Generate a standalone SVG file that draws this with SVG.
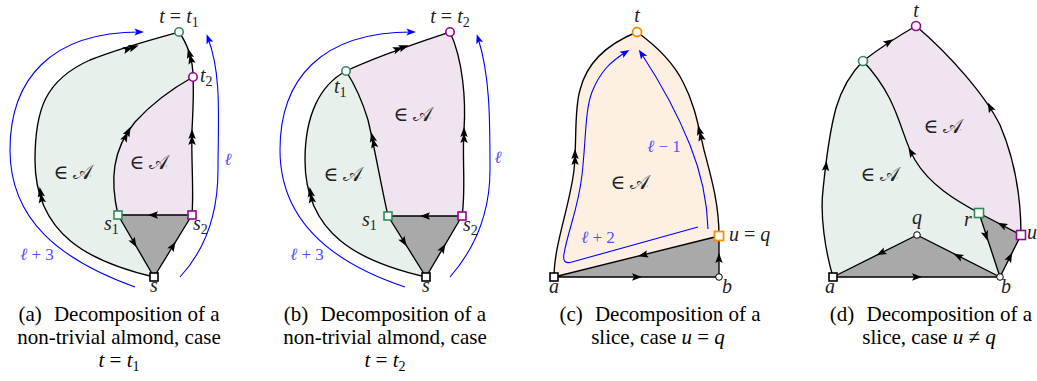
<svg xmlns="http://www.w3.org/2000/svg" xmlns:xlink="http://www.w3.org/1999/xlink" width="1037" height="381" viewBox="0 0 1037 381">
<style>
.edge{fill:none;stroke:#000;stroke-width:1.35}
.blue{fill:none;stroke:#0000ff;stroke-width:1.1;marker-end:url(#bh)}
.gfill{fill:#e7f0eb;stroke:none}
.pfill{fill:#f1e4f1;stroke:none}
.ofill{fill:#fdf0e2;stroke:none}
.gray{fill:#a9a9a9;stroke:#000;stroke-width:1.35;stroke-linejoin:round}
.ah{fill:#000}
.math{font-family:"Liberation Serif","DejaVu Serif",serif;font-style:italic;font-size:20px;fill:#222}
.up{font-style:normal}
.sub{font-size:14px;font-style:normal}
.bl{font-family:"Liberation Serif","DejaVu Serif",serif;font-style:italic;font-size:17px;fill:#5050ff}
.inA{font-family:"Liberation Serif","DejaVu Serif",serif;font-size:20px;fill:#222}
.cap{font-family:"Liberation Serif",serif;font-size:21px;fill:#000;text-anchor:middle}
.nG{fill:#fff;stroke:#2e8b57;stroke-width:1.6}
.nP{fill:#fff;stroke:#990099;stroke-width:1.6}
.nO{fill:#fff;stroke:#ff8c00;stroke-width:1.8}
.nK{fill:#fff;stroke:#000;stroke-width:1.6}
.nS{fill:#fff;stroke:#000;stroke-width:1}
</style>
<defs>
<path id="ah" d="M5,0 L-5,-3.7 L-3,0 L-5,3.7 Z"/>
<path id="dah" d="M8,0 L-2,-3.7 L0,0 L-2,3.7 Z M2,0 L-8,-3.7 L-6,0 L-8,3.7 Z"/>
<marker id="bh" viewBox="-6 -4 11 8" markerWidth="11" markerHeight="8" refX="0" refY="0" orient="auto" markerUnits="userSpaceOnUse">
<path d="M4,0 L-5.5,-3.6 L-3.5,0 L-5.5,3.6 Z" fill="#0000ff"/>
</marker>
</defs>

<!-- Panel (a) -->
<g id="panel-a">
<path class="gfill" d="M154,277 C90,262 35,235 35,160 C35,110 45,80 90,60 C120,48 150,40 179,32 C188,45 193,60 193,77 C175,87 155,100 135,122 C112,150 110,180 118,215 Z"/>
<path class="pfill" d="M118,215 C110,180 112,150 135,122 C155,100 175,87 193,77 C194,95 193,110 192,130 C191,160 194,190 192,215 Z"/>
<path class="gray" d="M118,215 L192,215 L154,277 Z"/>
</g>
<g id="connectors-a">
<path class="edge" d="M154,277 C90,262 35,235 35,160 C35,110 45,80 90,60 C120,48 150,40 179,32"/>
<path class="edge" d="M193,77 C193,60 188,45 179,32"/>
<path class="edge" d="M118,215 C110,180 112,150 135,122 C155,100 175,87 193,77"/>
<path class="edge" d="M192,215 C194,190 191,160 192,130 C193,110 194,95 193,77"/>
<use href="#dah" class="ah" transform="translate(41,195) rotate(-100)"/>
<use href="#dah" class="ah" transform="translate(131,48) rotate(-18)"/>
<use href="#dah" class="ah" transform="translate(127,134) rotate(-63)"/>
<use href="#dah" class="ah" transform="translate(192,137) rotate(-90)"/>
<use href="#dah" class="ah" transform="translate(190,56) rotate(-105)"/>
<use href="#ah" class="ah" transform="translate(153,215) rotate(180)"/>
<use href="#ah" class="ah" transform="translate(134,243) rotate(60)"/>
<use href="#ah" class="ah" transform="translate(173,246) rotate(-58)"/>
<path class="blue" d="M135,287 C60,260 10,220 10,150 C10,80 50,32 140,32"/>
<path class="blue" d="M180,277 C205,250 218,215 218,170 C218,120 222,75 208,38"/>
</g>
<g id="nodes-a">
<circle id="a-t" class="nG" cx="179" cy="32" r="4.2"/>
<circle id="a-t2" class="nP" cx="193" cy="77" r="4.2"/>
<rect id="a-s1" class="nG" x="114" y="211" width="8" height="8"/>
<rect id="a-s2" class="nP" x="188" y="211" width="8" height="8"/>
<rect id="a-s" class="nK" x="150" y="273" width="8" height="8"/>
<text class="math" x="179" y="23" text-anchor="middle">t <tspan class="up">=</tspan> t<tspan class="sub" dy="4">1</tspan></text>
<text class="math" x="200" y="82">t<tspan class="sub" dy="4">2</tspan></text>
<text class="math" x="104" y="230">s<tspan class="sub" dy="4">1</tspan></text>
<text class="math" x="193" y="230">s<tspan class="sub" dy="4">2</tspan></text>
<text class="math" x="154" y="292" text-anchor="middle">s</text>
<text class="bl" x="37" y="260" text-anchor="middle">ℓ <tspan font-style="normal">+ 3</tspan></text>
<text class="bl" x="228" y="165" text-anchor="middle">ℓ</text>
<text class="inA" x="73" y="179" text-anchor="middle">∈ 𝒜</text>
<text class="inA" x="149" y="169" text-anchor="middle">∈ 𝒜</text>
</g>

<!-- Panel (b) -->
<g id="panel-b">
<path class="gfill" d="M426,277 C360,262 305,235 305,160 C305,115 320,85 346,71 C355,85 362,100 368,120 C375,150 380,180 388,216 Z"/>
<path class="pfill" d="M346,71 C380,55 420,42 450,32 C463,60 466,100 464,130 C462,160 466,190 462,216 L388,216 C380,180 375,150 368,120 C362,100 355,85 346,71 Z"/>
<path class="gray" d="M388,216 L462,216 L426,277 Z"/>
</g>
<g id="connectors-b">
<path class="edge" d="M426,277 C360,262 305,235 305,160 C305,115 320,85 346,71"/>
<path class="edge" d="M346,71 C380,55 420,42 450,32"/>
<path class="edge" d="M388,216 C380,180 375,150 368,120 C362,100 355,85 346,71"/>
<path class="edge" d="M462,216 C466,190 462,160 464,130 C466,100 463,60 450,32"/>
<use href="#dah" class="ah" transform="translate(311,195) rotate(-100)"/>
<use href="#dah" class="ah" transform="translate(401,48) rotate(-20)"/>
<use href="#dah" class="ah" transform="translate(373,140) rotate(-103)"/>
<use href="#dah" class="ah" transform="translate(464,135) rotate(-90)"/>
<use href="#ah" class="ah" transform="translate(425,216) rotate(180)"/>
<use href="#ah" class="ah" transform="translate(404,242) rotate(58)"/>
<use href="#ah" class="ah" transform="translate(443,248) rotate(-59)"/>
<path class="blue" d="M405,287 C330,262 280,220 280,150 C280,80 320,32 412,32"/>
<path class="blue" d="M450,277 C478,245 490,210 490,170 C490,120 490,75 478,38"/>
</g>
<g id="nodes-b">
<circle id="b-t" class="nP" cx="450" cy="32" r="4.2"/>
<circle id="b-t1" class="nG" cx="346" cy="71" r="4.2"/>
<rect id="b-s1" class="nG" x="384" y="212" width="8" height="8"/>
<rect id="b-s2" class="nP" x="458" y="212" width="8" height="8"/>
<rect id="b-s" class="nK" x="422" y="273" width="8" height="8"/>
<text class="math" x="450" y="23" text-anchor="middle">t <tspan class="up">=</tspan> t<tspan class="sub" dy="4">2</tspan></text>
<text class="math" x="334" y="93">t<tspan class="sub" dy="4">1</tspan></text>
<text class="math" x="362" y="226">s<tspan class="sub" dy="4">1</tspan></text>
<text class="math" x="463" y="231">s<tspan class="sub" dy="4">2</tspan></text>
<text class="math" x="426" y="292" text-anchor="middle">s</text>
<text class="bl" x="307" y="260" text-anchor="middle">ℓ <tspan font-style="normal">+ 3</tspan></text>
<text class="bl" x="498" y="163" text-anchor="middle">ℓ</text>
<text class="inA" x="343" y="181" text-anchor="middle">∈ 𝒜</text>
<text class="inA" x="413" y="121" text-anchor="middle">∈ 𝒜</text>
</g>

<!-- Panel (c) -->
<g id="panel-c">
<path class="ofill" d="M554,277 C554,245 570,205 574,170 C577,140 574,110 580,90 C586,65 605,45 637,32 C655,45 672,60 683,82 C695,105 698,125 704,150 C712,180 719,205 719,236 Z"/>
<path class="gray" d="M554,277 L719,236 L719,277 Z"/>
</g>
<g id="connectors-c">
<path class="edge" d="M554,277 C554,245 570,205 574,170 C577,140 574,110 580,90 C586,65 605,45 637,32"/>
<path class="edge" d="M719,236 C719,205 712,180 704,150 C698,125 695,105 683,82 C672,60 655,45 637,32"/>
<use href="#dah" class="ah" transform="translate(575,157) rotate(-90)"/>
<use href="#dah" class="ah" transform="translate(700,133) rotate(-105)"/>
<use href="#ah" class="ah" transform="translate(643,255) rotate(166)"/>
<use href="#ah" class="ah" transform="translate(637,277) rotate(0)"/>
<use href="#ah" class="ah" transform="translate(719,258) rotate(-90)"/>
<path class="blue" d="M698,227 L572,262 Q562,265 564,254 C568,230 578,210 582,175 C586,140 585,110 592,92 C600,72 610,62 626,52"/>
<path class="blue" d="M708,229 C707,195 700,170 690,145 C678,115 662,85 641,53"/>
</g>
<g id="nodes-c">
<circle id="c-t" class="nO" cx="637" cy="32" r="4.5"/>
<rect id="c-u" class="nO" x="714.5" y="231.5" width="9" height="9"/>
<rect id="c-a" class="nK" x="550" y="273" width="8" height="8"/>
<circle id="c-b" class="nS" cx="719" cy="277" r="3.3"/>
<text class="math" x="637" y="22" text-anchor="middle">t</text>
<text class="math" x="729" y="241">u <tspan class="up">=</tspan> q</text>
<text class="math" x="554" y="293" text-anchor="middle">a</text>
<text class="math" x="727" y="293" text-anchor="middle">b</text>
<text class="bl" x="598" y="243" text-anchor="middle">ℓ <tspan font-style="normal">+ 2</tspan></text>
<text class="bl" x="664" y="152" text-anchor="middle">ℓ <tspan font-style="normal">− 1</tspan></text>
<text class="inA" x="630" y="189" text-anchor="middle">∈ 𝒜</text>
</g>

<!-- Panel (d) -->
<g id="panel-d">
<path class="gfill" d="M833,277 C825,250 820,215 823,190 C826,160 830,130 836,108 C842,88 852,72 863,61 C900,100 900,135 915,160 C930,185 955,200 979,213 L1000,277 Z"/>
<path class="pfill" d="M863,61 C880,48 900,35 916,26 C950,55 985,95 1000,125 C1015,160 1021,195 1021,235 L979,213 C955,200 930,185 915,160 C900,135 900,100 863,61 Z"/>
<path class="gray" d="M833,277 L917,235 L1000,277 Z"/>
<path class="gray" d="M979,213 L1021,235 L1000,277 Z"/>
</g>
<g id="connectors-d">
<path class="edge" d="M833,277 C825,250 820,215 823,190 C826,160 830,130 836,108 C842,88 852,72 863,61"/>
<path class="edge" d="M863,61 C880,48 900,35 916,26"/>
<path class="edge" d="M979,213 C955,200 930,185 915,160 C900,135 900,100 863,61"/>
<path class="edge" d="M1021,235 C1021,195 1015,160 1000,125 C985,95 950,55 916,26"/>
<use href="#ah" class="ah" transform="translate(826,166) rotate(-84)"/>
<use href="#ah" class="ah" transform="translate(889,42) rotate(-33)"/>
<use href="#ah" class="ah" transform="translate(911,152) rotate(-120)"/>
<use href="#ah" class="ah" transform="translate(990,107) rotate(-117)"/>
<use href="#ah" class="ah" transform="translate(881,253) rotate(153)"/>
<use href="#ah" class="ah" transform="translate(958,256) rotate(207)"/>
<use href="#ah" class="ah" transform="translate(917,277) rotate(0)"/>
<use href="#ah" class="ah" transform="translate(1002,225) rotate(208)"/>
<use href="#ah" class="ah" transform="translate(986,236) rotate(72)"/>
<use href="#ah" class="ah" transform="translate(1010,257) rotate(-63)"/>
</g>
<g id="nodes-d">
<circle id="d-t" class="nP" cx="916" cy="26" r="4.5"/>
<circle id="d-g" class="nG" cx="863" cy="61" r="4.5"/>
<rect id="d-r" class="nG" x="974.5" y="208.5" width="9" height="9"/>
<rect id="d-u" class="nP" x="1016.5" y="230.5" width="9" height="9"/>
<circle id="d-q" class="nS" cx="917" cy="235" r="3.3"/>
<rect id="d-a" class="nK" x="829" y="273" width="8" height="8"/>
<circle id="d-b" class="nS" cx="1000" cy="277" r="3.3"/>
<text class="math" x="916" y="17" text-anchor="middle">t</text>
<text class="math" x="917" y="224" text-anchor="middle">q</text>
<text class="math" x="968" y="226" text-anchor="middle">r</text>
<text class="math" x="1027" y="239" font-size="17">u</text>
<text class="math" x="830" y="293" text-anchor="middle">a</text>
<text class="math" x="1006" y="293" text-anchor="middle">b</text>
<text class="inA" x="943" y="133" text-anchor="middle">∈ 𝒜</text>
<text class="inA" x="880" y="181" text-anchor="middle">∈ 𝒜</text>
</g>

<!-- Captions -->
<g id="captions">
<text class="cap" x="119" y="321">(a)<tspan dx="7"> Decomposition of a</tspan></text>
<text class="cap" x="119" y="344">non-trivial almond, case</text>
<text class="cap" x="119" y="367"><tspan font-style="italic">t</tspan> = <tspan font-style="italic">t</tspan><tspan font-size="14" dy="4">1</tspan></text>
<text class="cap" x="385" y="321">(b)<tspan dx="7"> Decomposition of a</tspan></text>
<text class="cap" x="385" y="344">non-trivial almond, case</text>
<text class="cap" x="385" y="367"><tspan font-style="italic">t</tspan> = <tspan font-style="italic">t</tspan><tspan font-size="14" dy="4">2</tspan></text>
<text class="cap" x="660" y="321">(c)<tspan dx="7"> Decomposition of a</tspan></text>
<text class="cap" x="658" y="344">slice, case <tspan font-style="italic">u</tspan> = <tspan font-style="italic">q</tspan></text>
<text class="cap" x="931" y="321">(d)<tspan dx="7"> Decomposition of a</tspan></text>
<text class="cap" x="929" y="344">slice, case <tspan font-style="italic">u</tspan> ≠ <tspan font-style="italic">q</tspan></text>
</g>
</svg>
